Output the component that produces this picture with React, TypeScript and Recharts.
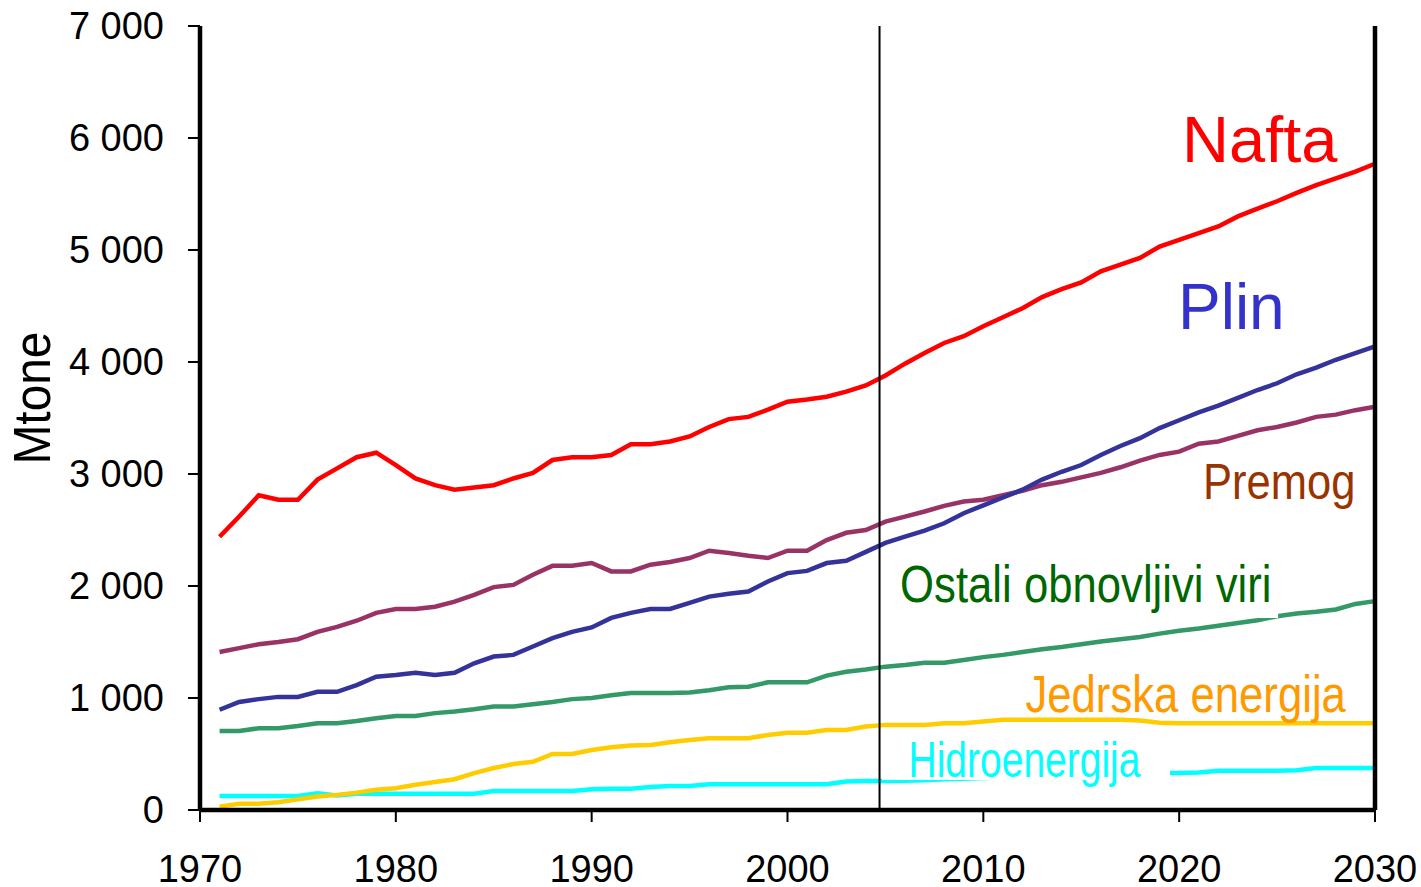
import React from 'react';
import { LineChart, Line, XAxis, YAxis, ReferenceLine, ReferenceDot } from 'recharts';

const years = [
  1971, 1972, 1973, 1974, 1975, 1976, 1977, 1978, 1979, 1980,
  1981, 1982, 1983, 1984, 1985, 1986, 1987, 1988, 1989, 1990,
  1991, 1992, 1993, 1994, 1995, 1996, 1997, 1998, 1999, 2000,
  2001, 2002, 2003, 2004, 2005, 2006, 2007, 2008, 2009, 2010,
  2011, 2012, 2013, 2014, 2015, 2016, 2017, 2018, 2019, 2020,
  2021, 2022, 2023, 2024, 2025, 2026, 2027, 2028, 2029, 2030,
];

const nafta = [
  2440, 2620, 2810, 2770, 2770, 2950, 3050, 3150, 3190, 3080,
  2960, 2900, 2860, 2880, 2900, 2960, 3010, 3125, 3150, 3150,
  3170, 3265, 3265, 3290, 3335, 3420, 3490, 3510, 3575, 3645,
  3665, 3690, 3735, 3790, 3880, 3985, 4080, 4170, 4230, 4320,
  4400, 4480, 4580, 4650, 4710, 4810, 4870, 4930, 5030, 5090,
  5150, 5210, 5300, 5370, 5435, 5510, 5580, 5640, 5700, 5770,
];

const plin = [
  895, 965, 990, 1010, 1010, 1055, 1055, 1115, 1190, 1205,
  1225, 1205, 1225, 1310, 1370, 1385, 1460, 1535, 1590, 1630,
  1715, 1760, 1795, 1795, 1850, 1905, 1930, 1950, 2040, 2115,
  2135, 2205, 2225, 2305, 2385, 2440, 2495, 2560, 2650, 2720,
  2790, 2860, 2950, 3020, 3080, 3170, 3250, 3320, 3410, 3480,
  3550, 3610, 3680, 3750, 3810, 3890, 3950, 4020, 4080, 4140,
];

const premog = [
  1410, 1445, 1480, 1500, 1525, 1590, 1635, 1690, 1760, 1795,
  1795, 1815, 1860, 1920, 1990, 2010, 2100, 2180, 2180, 2205,
  2130, 2130, 2190, 2215, 2250, 2315, 2295, 2270, 2250, 2315,
  2315, 2410, 2475, 2500, 2575, 2620, 2665, 2715, 2755, 2770,
  2810, 2850, 2900, 2930, 2970, 3010, 3060, 3120, 3170, 3200,
  3270, 3290, 3340, 3390, 3420, 3460, 3510, 3530, 3570, 3600,
];

const ostali = [
  705, 705, 730, 730, 750, 775, 775, 795, 820, 840,
  840, 865, 880, 900, 925, 925, 945, 965, 990, 1000,
  1025, 1045, 1045, 1045, 1050, 1070, 1095, 1100, 1140, 1140,
  1140, 1200, 1235, 1255, 1280, 1295, 1315, 1315, 1340, 1365,
  1385, 1410, 1435, 1455, 1480, 1505, 1525, 1545, 1575, 1600,
  1620, 1645, 1670, 1695, 1730, 1755, 1770, 1790, 1840, 1865,
];

const jedrska = [
  30, 55, 55, 70, 95, 120, 135, 155, 180, 195,
  225, 250, 275, 330, 375, 410, 430, 500, 500, 535,
  560, 575, 580, 605, 625, 640, 640, 640, 670, 690,
  690, 715, 715, 745, 760, 760, 760, 775, 775, 790,
  805, 805, 805, 805, 805, 805, 805, 800, 780, 775,
  775, 775, 775, 775, 775, 775, 775, 775, 775, 775,
];

const hidro = [
  125, 125, 125, 125, 125, 150, 130, 145, 145, 145,
  145, 145, 145, 145, 170, 170, 170, 170, 170, 185,
  190, 190, 205, 215, 215, 230, 230, 230, 230, 230,
  230, 230, 255, 260, 260, 262, 265, 275, 280, 285,
  290, 295, 300, 305, 310, 315, 320, 325, 330, 330,
  335, 350, 350, 350, 350, 355, 375, 375, 375, 375,
];

const xTicks = [1970, 1980, 1990, 2000, 2010, 2020, 2030];
const yTicks = [0, 1000, 2000, 3000, 4000, 5000, 6000, 7000];
const dividerYear = 2004.7;

const data = years.map((year, i) => ({
  year,
  nafta: nafta[i],
  plin: plin[i],
  premog: premog[i],
  ostali: ostali[i],
  jedrska: jedrska[i],
  hidro: hidro[i],
}));

const FONT = '"Liberation Sans", Arial, sans-serif';

type Annot = {
  text: string;
  x: number;
  y: number;
  color: string;
  size: number;
  sx: number;
  box?: [number, number, number, number];
};

const annotations: Annot[] = [
  { text: 'Nafta', x: 2020.15, y: 5786, color: '#FF0000', size: 65, sx: 1 },
  { text: 'Plin', x: 2019.94, y: 4295, color: '#3333CC', size: 64, sx: 1 },
  { text: 'Premog', x: 2021.22, y: 2777, color: '#993300', size: 50, sx: 0.87 },
  { text: 'Ostali obnovljivi viri', x: 2005.75, y: 1857, color: '#006600', size: 52, sx: 0.84, box: [-5, -47, 383, 63] },
  { text: 'Jedrska energija', x: 2012.15, y: 875, color: '#FF9900', size: 52, sx: 0.84 },
  { text: 'Hidroenergija', x: 2006.18, y: 295, color: '#00FFFF', size: 50, sx: 0.78, box: [-26.5, -42, 288, 45] },
];

const fmt = (v: number) => {
  if (v < 1000) return String(v);
  const s = String(v);
  return s.slice(0, s.length - 3) + ' ' + s.slice(s.length - 3);
};

const MtoneLabel = (props: any) => {
  const vb = props && props.viewBox ? props.viewBox : { x: 0, y: 26, width: 200, height: 784 };
  const cx = vb.x + 50;
  const cy = vb.y + vb.height / 2 - 20;
  return (
    <text
      transform={`translate(${cx},${cy}) rotate(-90) scale(0.92,1)`}
      textAnchor="middle"
      fontSize={52}
      fontFamily={FONT}
      fill="#000"
    >
      Mtone
    </text>
  );
};

const makeShape = (a: Annot) => (p: any) => {
  const cx = p.cx;
  const cy = p.cy;
  return (
    <g>
      {a.box && (
        <rect x={cx + a.box[0]} y={cy + a.box[1]} width={a.box[2]} height={a.box[3]} fill="#FFFFFF" />
      )}
      <text
        transform={`translate(${cx},${cy}) scale(${a.sx},1)`}
        x={0}
        y={0}
        fill={a.color}
        fontSize={a.size}
        fontFamily={FONT}
      >
        {a.text}
      </text>
    </g>
  );
};

const LW = 4.5;

export default function App() {
  return (
    <div style={{ position: 'absolute', left: 0, top: 0, background: '#fff' }}>
      <LineChart
        width={1421}
        height={887}
        data={data}
        margin={{ top: 26, right: 46, bottom: 0, left: 0 }}
        style={{ fontFamily: FONT }}
      >
        <XAxis
          dataKey="year"
          type="number"
          domain={[1970, 2030]}
          ticks={xTicks}
          interval={0}
          height={77}
          tickSize={12}
          tickMargin={33}
          axisLine={{ stroke: '#000', strokeWidth: 4.5 }}
          tickLine={{ stroke: '#000', strokeWidth: 2 }}
          tick={{ fontSize: 38, fill: '#000', fontFamily: FONT }}
        />
        <YAxis
          type="number"
          domain={[0, 7000]}
          ticks={yTicks}
          interval={0}
          width={200}
          tickSize={12}
          tickMargin={24}
          tickFormatter={fmt}
          axisLine={{ stroke: '#000', strokeWidth: 4.5 }}
          tickLine={{ stroke: '#000', strokeWidth: 2 }}
          tick={{ fontSize: 38, fill: '#000', fontFamily: FONT }}
          label={{ content: MtoneLabel }}
        />
        <Line type="linear" dataKey="nafta" stroke="#FF0000" strokeWidth={LW} dot={false} isAnimationActive={false} />
        <Line type="linear" dataKey="premog" stroke="#993366" strokeWidth={LW} dot={false} isAnimationActive={false} />
        <Line type="linear" dataKey="plin" stroke="#333399" strokeWidth={LW} dot={false} isAnimationActive={false} />
        <Line type="linear" dataKey="ostali" stroke="#339966" strokeWidth={LW} dot={false} isAnimationActive={false} />
        <Line type="linear" dataKey="hidro" stroke="#00FFFF" strokeWidth={LW} dot={false} isAnimationActive={false} />
        <Line type="linear" dataKey="jedrska" stroke="#FFCC00" strokeWidth={LW} dot={false} isAnimationActive={false} />
        <ReferenceLine x={dividerYear} stroke="#000" strokeWidth={2} />
        <ReferenceLine x={2030} stroke="#000" strokeWidth={4.5} />
        {annotations.map((a) => (
          <ReferenceDot key={a.text} x={a.x} y={a.y} r={0} shape={makeShape(a)} />
        ))}
      </LineChart>
    </div>
  );
}
